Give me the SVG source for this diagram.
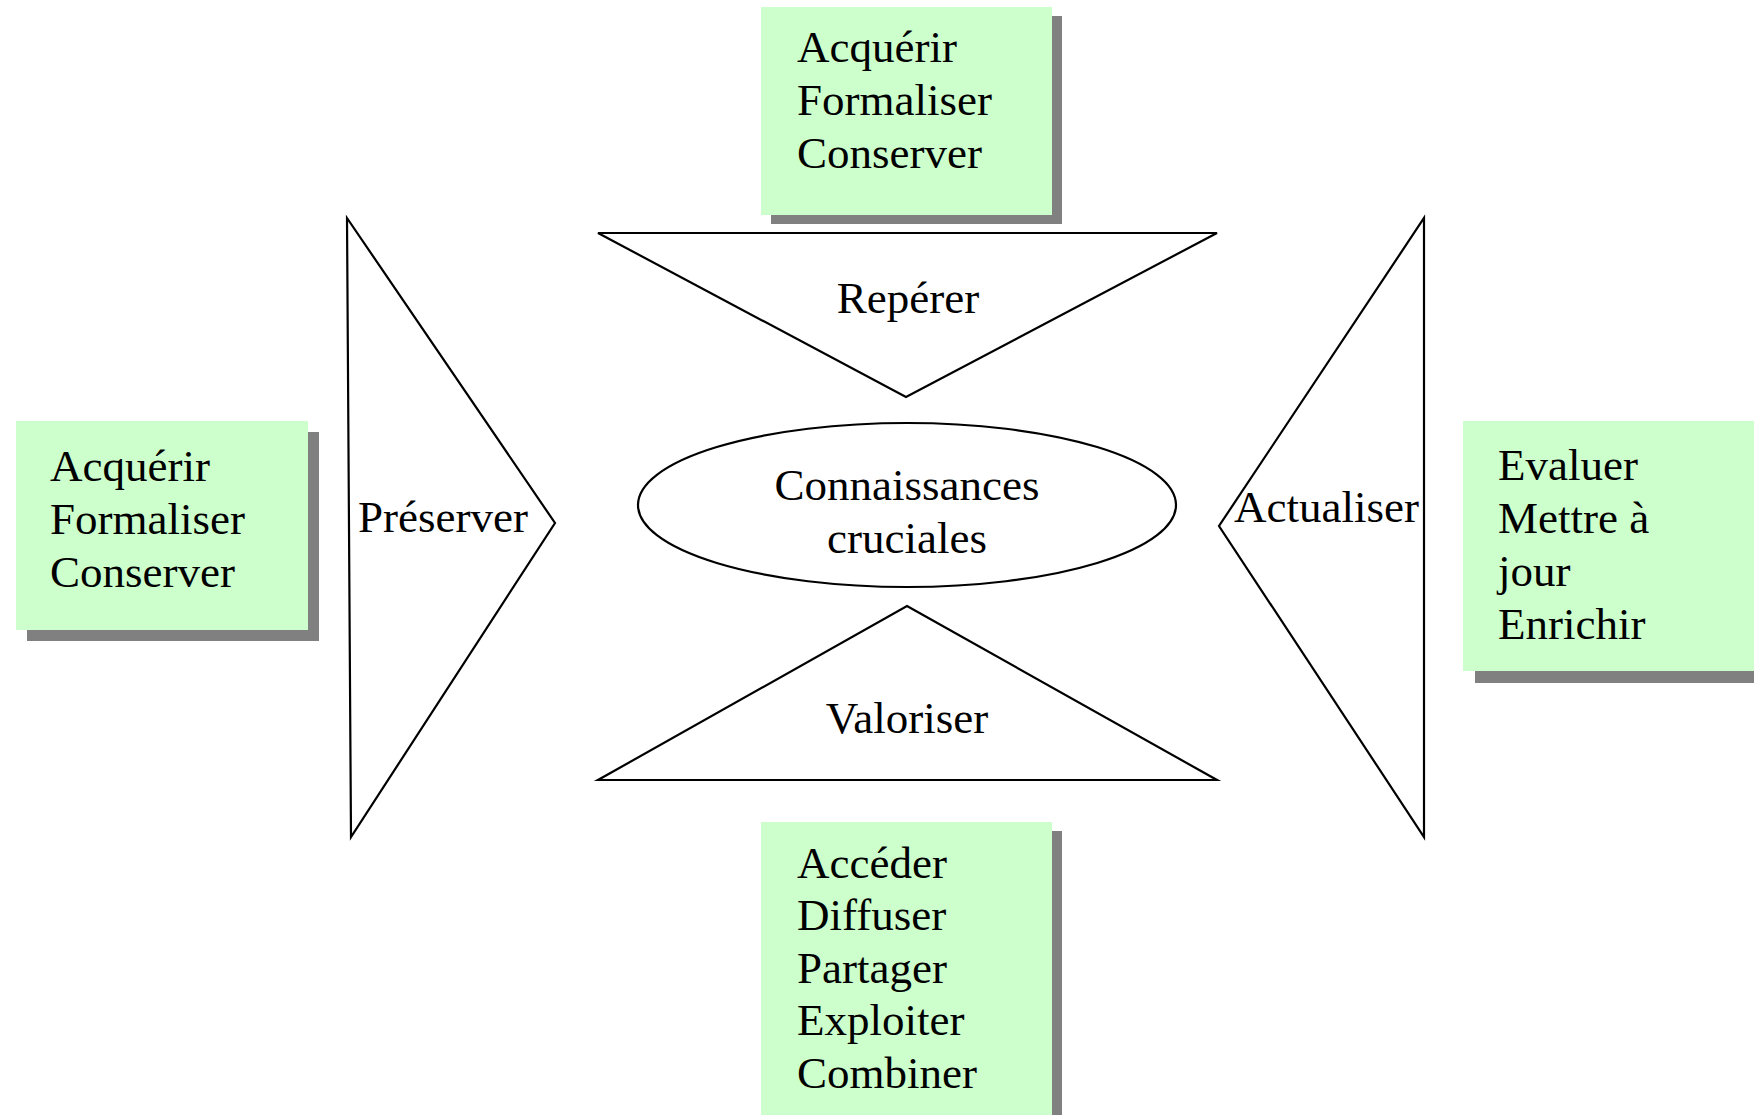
<svg xmlns="http://www.w3.org/2000/svg" width="1754" height="1115" viewBox="0 0 1754 1115">
<style>
.box{fill:#CCFFCC}
.shadow{fill:#808080}
.shape{fill:#FFFFFF;stroke:#000000;stroke-width:2.2}
text{font-family:"Liberation Serif","Times New Roman",serif;font-size:45px;fill:#000000}
.c{text-anchor:middle}
</style>
<rect width="1754" height="1115" fill="#FFFFFF"/>
<g id="box-top">
<rect class="shadow" x="771" y="16" width="291" height="208"/>
<rect class="box" x="761" y="7" width="291" height="208"/>
<text x="797" y="62">Acquérir</text>
<text x="797" y="115">Formaliser</text>
<text x="797" y="168">Conserver</text>
</g>
<g id="box-left">
<rect class="shadow" x="27" y="432" width="292" height="209"/>
<rect class="box" x="16" y="421" width="292" height="209"/>
<text x="50" y="481">Acquérir</text>
<text x="50" y="534">Formaliser</text>
<text x="50" y="587">Conserver</text>
</g>
<g id="box-right">
<rect class="shadow" x="1475" y="433" width="290" height="250"/>
<rect class="box" x="1463" y="421" width="300" height="250"/>
<text x="1498" y="480">Evaluer</text>
<text x="1498" y="533">Mettre à</text>
<text x="1498" y="586">jour</text>
<text x="1498" y="639">Enrichir</text>
</g>
<g id="box-bottom">
<rect class="shadow" x="771" y="831" width="291" height="300"/>
<rect class="box" x="761" y="822" width="291" height="300"/>
<text x="797" y="878">Accéder</text>
<text x="797" y="930">Diffuser</text>
<text x="797" y="983">Partager</text>
<text x="797" y="1035">Exploiter</text>
<text x="797" y="1088">Combiner</text>
</g>
<g id="reperer">
<polygon class="shape" points="598,233 1217,233 906,397"/>
<text class="c" x="908" y="313">Repérer</text>
</g>
<g id="valoriser">
<polygon class="shape" points="907,606 1217,780 598,780"/>
<text class="c" x="907" y="733">Valoriser</text>
</g>
<g id="preserver">
<polygon class="shape" points="347,218 555,523 351,837"/>
<text x="358" y="532">Préserver</text>
</g>
<g id="actualiser">
<polygon class="shape" points="1424,218 1424,837 1219,526"/>
<text x="1234" y="522">Actualiser</text>
</g>
<g id="connaissances">
<ellipse class="shape" cx="907" cy="505" rx="269" ry="82"/>
<text class="c" x="907" y="500">Connaissances</text>
<text class="c" x="907" y="553">cruciales</text>
</g>
<g id="connectors"/>
</svg>
